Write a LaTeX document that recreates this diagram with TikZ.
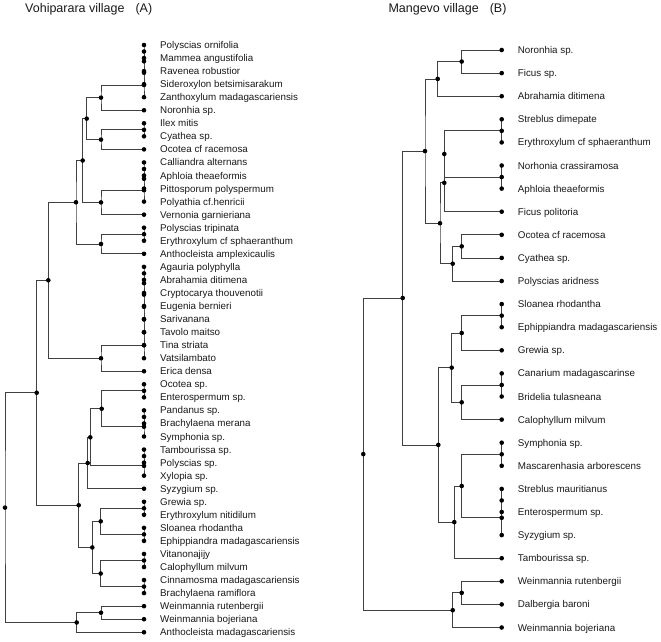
\documentclass[tikz,border=0pt]{standalone}
\usepackage{fontspec}
\setmainfont{Liberation Sans}
\tikzset{
  branch/.style={draw=black!75, line width=0.8pt},
  lab/.style={anchor=base west, inner sep=0pt, yshift=-3.5pt, text=black!90, font=\fontsize{9.8}{11}\selectfont},
  ttl/.style={anchor=base west, inner sep=0pt, text=black!90, font=\fontsize{12.5}{14}\selectfont}
}

\begin{document}
\begin{tikzpicture}[x=1pt,y=-1pt]
\useasboundingbox (0,0) rectangle (661,641);
\node[ttl] (titleA) at (25,12.5) {Vohiparara village\hspace{11pt}(A)};
\node[ttl] (titleB) at (388.3,12.5) {Mangevo village\hspace{11pt}(B)};

% leaves, village A
\foreach \s [count=\i] in {Polyscias ornifolia, Mammea angustifolia, Ravenea robustior,
  Sideroxylon betsimisarakum, Zanthoxylum madagascariensis, Noronhia sp., Ilex mitis,
  Cyathea sp., Ocotea cf racemosa, Calliandra alternans, Aphloia theaeformis,
  Pittosporum polyspermum, Polyathia cf.henricii, Vernonia garnieriana, Polyscias tripinata,
  Erythroxylum cf sphaeranthum, Anthocleista amplexicaulis, Agauria polyphylla,
  Abrahamia ditimena, Cryptocarya thouvenotii, Eugenia bernieri, Sarivanana, Tavolo maitso,
  Tina striata, Vatsilambato, Erica densa, Ocotea sp., Enterospermum sp., Pandanus sp.,
  Brachylaena merana, Symphonia sp., Tambourissa sp., Polyscias sp., Xylopia sp.,
  Syzygium sp., Grewia sp., Erythroxylum nitidilum, Sloanea rhodantha,
  Ephippiandra madagascariensis, Vitanonajijy, Calophyllum milvum,
  Cinnamosma madagascariensis, Brachylaena ramiflora, Weinmannia rutenbergii,
  Weinmannia bojeriana, Anthocleista madagascariensis} {
  \coordinate (a\i) at (144,{45+13.05*(\i-1)});
  \node[lab] (la\i) at (160,{45+13.05*(\i-1)}) {\s};
}

% leaves, village B
\foreach \s [count=\j] in {Noronhia sp., Ficus sp., Abrahamia ditimena, Streblus dimepate,
  Erythroxylum cf sphaeranthum, Norhonia crassiramosa, Aphloia theaeformis, Ficus politoria,
  Ocotea cf racemosa, Cyathea sp., Polyscias aridness, Sloanea rhodantha,
  Ephippiandra madagascariensis, Grewia sp., Canarium madagascarinse, Bridelia tulasneana,
  Calophyllum milvum, Symphonia sp., Mascarenhasia arborescens, Streblus mauritianus,
  Enterospermum sp., Syzygium sp., Tambourissa sp., Weinmannia rutenbergii,
  Dalbergia baroni, Weinmannia bojeriana} {
  \coordinate (b\j) at (501.7,{50+23.1*(\j-1)});
  \node[lab] (lb\j) at (517.7,{50+23.1*(\j-1)}) {\s};
}

% merges, tree A
\coordinate (t1) at (144,51.53);
\coordinate (t2) at (144,61.31);
\coordinate (t3) at (144,72.73);
\coordinate (t4) at (144,84.97);
\coordinate (t5) at (144,129.83);
\coordinate (t6) at (144,168.98);
\coordinate (t7) at (144,178.76);
\coordinate (t8) at (144,190.18);
\coordinate (t9) at (144,234.23);
\coordinate (t10) at (144,273.38);
\coordinate (t11) at (144,283.16);
\coordinate (t12) at (144,294.58);
\coordinate (t13) at (144,306.82);
\coordinate (t14) at (144,319.46);
\coordinate (t15) at (144,332.30);
\coordinate (t16) at (144,345.25);
\coordinate (t17) at (144,390.83);
\coordinate (t18) at (144,416.93);
\coordinate (t19) at (144,426.71);
\coordinate (t20) at (144,456.08);
\coordinate (t21) at (144,465.86);
\coordinate (t22) at (144,508.28);
\coordinate (t23) at (144,534.38);
\coordinate (t24) at (144,560.48);
\coordinate (t25) at (144,586.58);
\coordinate (n1) at (101,97.61);
\coordinate (n2) at (101,139.61);
\coordinate (n3) at (86.7,118.61);
\coordinate (n4) at (101,202.41);
\coordinate (n5) at (82.7,160.51);
\coordinate (n6) at (101,244.01);
\coordinate (n7) at (76,202.26);
\coordinate (n8) at (101,358.25);
\coordinate (n9) at (48.3,280.26);
\coordinate (n10) at (101.7,408.77);
\coordinate (n11) at (90.3,437.31);
\coordinate (n12) at (87.7,463.01);
\coordinate (n13) at (100.7,521.33);
\coordinate (n14) at (100.7,573.53);
\coordinate (n15) at (92.3,547.43);
\coordinate (n16) at (78.7,505.22);
\coordinate (n17) at (36.7,392.74);
\coordinate (n18) at (101,612.68);
\coordinate (n19) at (76.7,622.46);
\coordinate (n20) at (5,507.6);

% merges, tree B
\coordinate (s1) at (501.7,130.85);
\coordinate (s2) at (501.7,177.05);
\coordinate (s3) at (501.7,315.65);
\coordinate (s4) at (501.7,384.95);
\coordinate (s5) at (501.7,454.25);
\coordinate (s6) at (501.7,500.45);
\coordinate (s7) at (501.7,517.8);
\coordinate (p1) at (461.7,61.55);
\coordinate (p2) at (437.7,78.9);
\coordinate (p3) at (444.3,153.95);
\coordinate (p4) at (444.3,182.8);
\coordinate (p5) at (461.7,246.35);
\coordinate (p6) at (452.7,263.7);
\coordinate (p7) at (440,223.25);
\coordinate (p8) at (425,151.1);
\coordinate (p9) at (461.7,333);
\coordinate (p10) at (461.7,402.3);
\coordinate (p11) at (451.7,367.65);
\coordinate (p12) at (461.7,486);
\coordinate (p13) at (454.3,522.1);
\coordinate (p14) at (438.3,444.9);
\coordinate (p15) at (402.7,298);
\coordinate (p16) at (461.7,592.85);
\coordinate (p17) at (452.7,610.2);
\coordinate (p18) at (363.3,454.1);

\foreach \p/\c/\d in {t1/a1/a2, t2/t1/a3, t3/t2/a4, t4/t3/a5, t5/a7/a8, t6/a10/a11,
  t7/t6/a12, t8/t7/a13, t9/a15/a16, t10/a18/a19, t11/t10/a20, t12/t11/a21, t13/t12/a22,
  t14/t13/a23, t15/t14/a24, t16/t15/a25, t17/a27/a28, t18/a29/a30, t19/t18/a31,
  t20/a32/a33, t21/t20/a34, t22/a36/a37, t23/a38/a39, t24/a40/a41, t25/a42/a43,
  n1/t4/a6, n2/t5/a9, n3/n1/n2, n4/t8/a14, n5/n3/n4, n6/t9/a17, n7/n5/n6, n8/t16/a26,
  n9/n7/n8, n10/t17/t19, n11/n10/t21, n12/n11/a35, n13/t22/t23, n14/t24/t25,
  n15/n13/n14, n16/n12/n15, n17/n9/n16, n18/a44/a45, n19/n18/a46, n20/n17/n19,
  p1/b1/b2, p2/p1/b3, s1/b4/b5, s2/b6/b7, p3/s1/s2, p4/p3/b8, p5/b9/b10, p6/p5/b11,
  p7/p4/p6, p8/p2/p7, s3/b12/b13, p9/s3/b14, s4/b15/b16, p10/s4/b17, p11/p9/p10,
  s5/b18/b19, s6/b20/b21, s7/s6/b22, p12/s5/s7, p13/p12/b23, p14/p11/p13, p15/p8/p14,
  p16/b24/b25, p17/p16/b26, p18/p15/p17}
  \draw[branch] (\c) -| (\p) |- (\d);

% dots
\foreach \i in {1,...,46} \fill (a\i) circle (2.3pt);
\foreach \i in {1,...,26} \fill (b\i) circle (2.3pt);
\foreach \i in {1,...,25} \fill (t\i) circle (2.3pt);
\foreach \i in {1,...,20} \fill (n\i) circle (2.3pt);
\foreach \i in {1,...,7} \fill (s\i) circle (2.3pt);
\foreach \i in {1,...,18} \fill (p\i) circle (2.3pt);
\end{tikzpicture}
\end{document}
